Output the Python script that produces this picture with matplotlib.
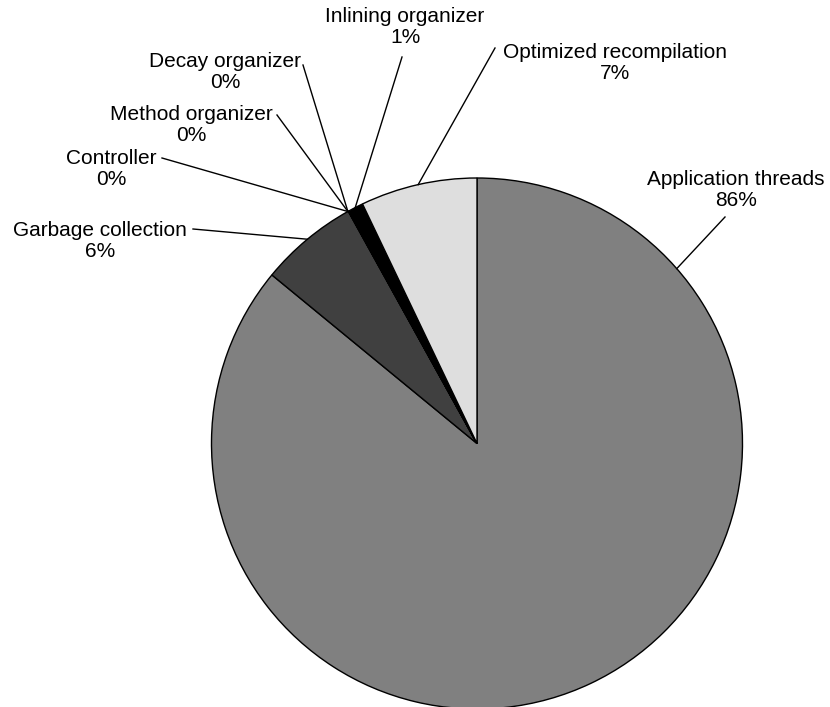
import numpy as np
import matplotlib.pyplot as plt

plt.rcParams['font.family'] = ['Liberation Sans', 'DejaVu Sans']

labels = ['Application threads', 'Garbage collection', 'Controller',
          'Method organizer', 'Decay organizer', 'Inlining organizer',
          'Optimized recompilation']
values = [86.0, 6.0, 0.02, 0.02, 0.02, 0.9, 7.1]
colors = ['#808080', '#404040', '#ffffff', '#ffffff', '#ffffff', '#000000', '#dedede']

# label text centre (pixels, top-left origin) and leader end angle on the rim
label_pos = [(736, 190), (100, 241), (111, 169), (191, 125), (225, 72), (405, 27), (615, 63)]
leader_from = [(725, 217), (193, 229), (162, 158), (277, 115), (303, 65), (402, 57), (495, 48)]
leader_ang = [41.2, 129.7, 119.1, 119.1, 119.1, 117.3, 102.8]

W, H = 830, 707
cx, cy, r = 477, H - 443.5, 265.5

fig = plt.figure(figsize=(8.3, 7.07), dpi=100)
ax = fig.add_axes([0, 0, 1, 1])
ax.pie(values, colors=colors, startangle=90, counterclock=False,
       center=(cx, cy), radius=r,
       wedgeprops=dict(edgecolor='black', linewidth=1.0))
ax.set_xlim(0, W)
ax.set_ylim(0, H)
ax.set_aspect('equal')
ax.axis('off')

for lab, v, (tx, ty), (lx, ly), a in zip(labels, values, label_pos, leader_from, leader_ang):
    ax.text(tx, H - ty, f'{lab}\n{round(v):d}%', ha='center', va='center',
            fontsize=15, linespacing=1.15)
    ex = cx + r * np.cos(np.radians(a))
    ey = cy + r * np.sin(np.radians(a))
    ax.plot([lx, ex], [H - ly, ey], color='black', linewidth=1.0)

fig.savefig('out.png', dpi=100)
